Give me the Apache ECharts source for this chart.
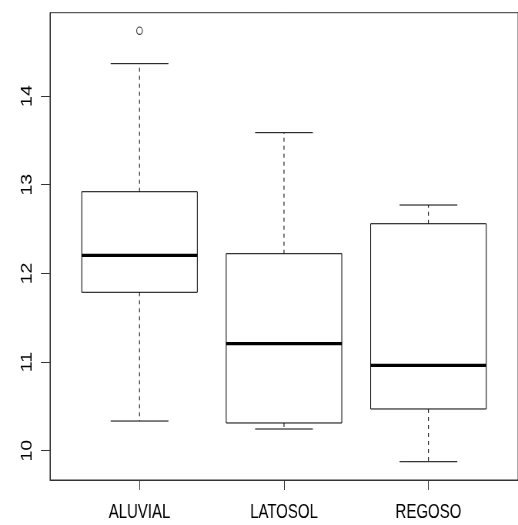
<!DOCTYPE html>
<html>
<head>
<meta charset="utf-8">
<script src="https://cdn.jsdelivr.net/npm/echarts@6/dist/echarts.min.js"></script>
<style>
  html, body { margin: 0; padding: 0; width: 518px; height: 525px; overflow: hidden; background: #fff; }
  #chart { width: 673px; height: 525px; transform: scaleX(0.7697); transform-origin: 0 0; }
</style>
</head>
<body>
<div id="chart"></div>
<script>
// ---- data ----
var categories = ['ALUVIAL', 'LATOSOL', 'REGOSO'];
var whiskerLow  = [10.335, 10.245, 9.876];
var q1          = [11.787, 10.313, 10.471];
var median      = [12.204, 11.207, 10.963];
var q3          = [12.921, 12.222, 12.560];
var whiskerHigh = [14.365, 13.587, 12.771];
var outliers    = [[1, 14.737]];           // [category position, value]
var yTicks      = [10, 11, 12, 13, 14];
var xTicks      = [1, 2, 3];

var boxData = categories.map(function (c, i) {
  return [i + 1, whiskerLow[i], q1[i], median[i], q3[i], whiskerHigh[i]];
});

var chart = echarts.init(document.getElementById('chart'), null, { renderer: 'canvas' });
var FONT = "'Liberation Sans', Arial, sans-serif";

function renderBox(params, api) {
  var x = api.value(0);
  var lo = api.value(1), a = api.value(2), m = api.value(3), b = api.value(4), hi = api.value(5);
  var hw = 0.4, cw = 0.2;
  var pL = api.coord([x - hw, b]), pR = api.coord([x + hw, a]);
  var solid = { stroke: '#000', lineWidth: 1, fill: null };
  var dashed = { stroke: '#000', lineWidth: 1, lineDash: [4, 4] };
  function P(xx, yy) { return api.coord([xx, yy]); }
  return {
    type: 'group',
    children: [
      { type: 'rect', shape: { x: pL[0], y: pL[1], width: pR[0] - pL[0], height: pR[1] - pL[1] }, style: { stroke: '#000', lineWidth: 1, fill: '#fff' } },
      { type: 'line', shape: { x1: P(x, b)[0], y1: P(x, b)[1], x2: P(x, hi)[0], y2: P(x, hi)[1] }, style: dashed },
      { type: 'line', shape: { x1: P(x, a)[0], y1: P(x, a)[1], x2: P(x, lo)[0], y2: P(x, lo)[1] }, style: dashed },
      { type: 'line', shape: { x1: P(x - cw, hi)[0], y1: P(x - cw, hi)[1], x2: P(x + cw, hi)[0], y2: P(x + cw, hi)[1] }, style: solid },
      { type: 'line', shape: { x1: P(x - cw, lo)[0], y1: P(x - cw, lo)[1], x2: P(x + cw, lo)[0], y2: P(x + cw, lo)[1] }, style: solid },
      { type: 'line', shape: { x1: P(x - hw, m)[0], y1: P(x - hw, m)[1], x2: P(x + hw, m)[0], y2: P(x + hw, m)[1] }, style: { stroke: '#000', lineWidth: 3.3 } }
    ]
  };
}

chart.setOption({
  animation: false,
  backgroundColor: '#fff',
  grid: { left: 64.9, right: -6.8, top: 12.7, bottom: 45, show: true, borderColor: '#333', borderWidth: 1, backgroundColor: 'transparent' },
  xAxis: {
    type: 'value', min: 0.38, max: 3.62,
    splitLine: { show: false },
    axisLine: { show: true, onZero: false, lineStyle: { color: '#333', width: 1 } },
    axisTick: { show: true, customValues: xTicks, length: 10, lineStyle: { color: '#333' } },
    axisLabel: {
      customValues: xTicks, margin: 23, color: '#000', fontFamily: FONT, fontSize: 19.5,
      formatter: function (v) { return categories[Math.round(v) - 1] || ''; }
    }
  },
  yAxis: {
    type: 'value', min: 9.67, max: 14.94,
    splitLine: { show: false },
    axisLine: { show: true, onZero: false, lineStyle: { color: '#333', width: 1 } },
    axisTick: { show: true, customValues: yTicks, length: 11.7, lineStyle: { color: '#333' } },
    axisLabel: { customValues: yTicks, rotate: 90, margin: 19, color: '#000', fontFamily: FONT, fontSize: 19.5 }
  },
  series: [
    { type: 'custom', renderItem: renderBox, data: boxData, encode: { x: 0, y: [1, 2, 3, 4, 5] }, z: 2 },
    { type: 'scatter', data: outliers, symbol: 'circle', symbolSize: 7.4,
      itemStyle: { color: '#fff', borderColor: '#000', borderWidth: 1.1 }, z: 3 }
  ]
});
</script>
</body>
</html>
